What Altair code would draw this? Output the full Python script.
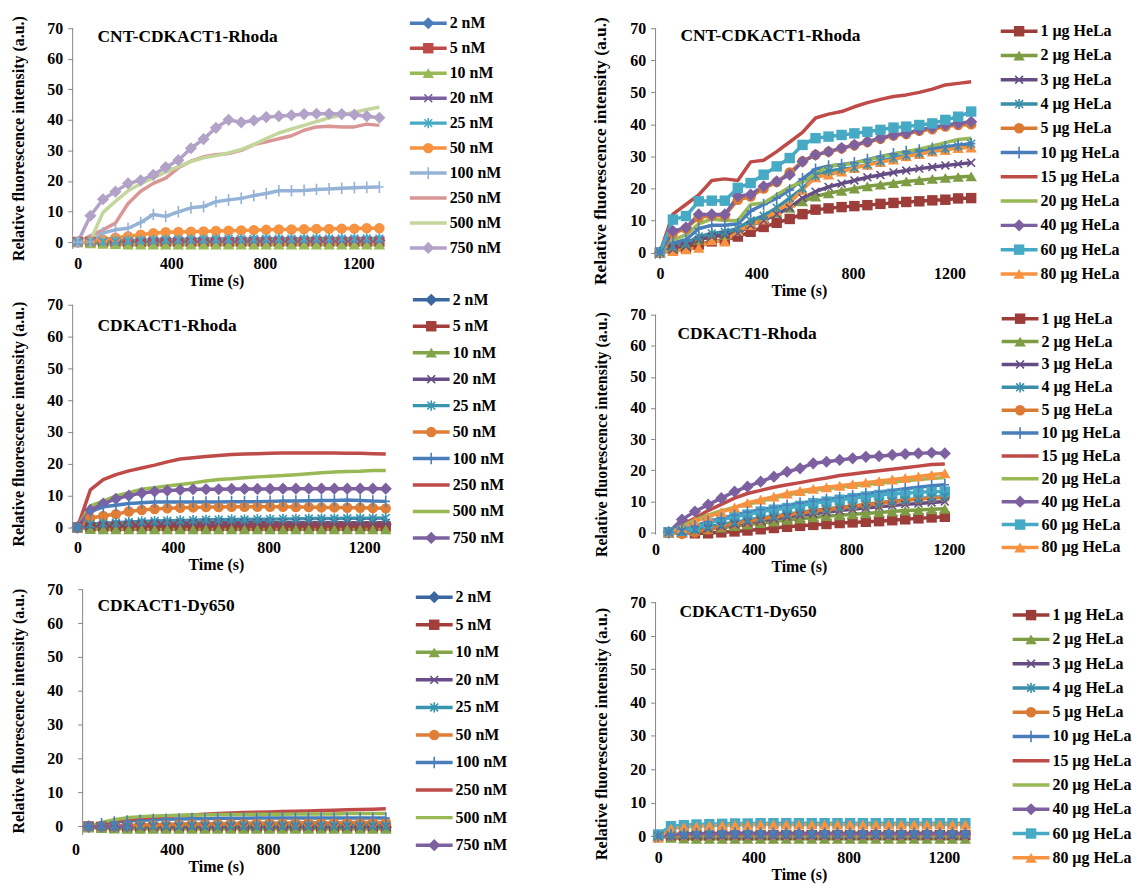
import altair as alt
import pandas as pd

FONT = "Liberation Serif"
GREY = "#868686"

# sampling times (s)
T = [0, 54, 108, 161, 215, 269, 323, 376, 430, 484, 538, 591, 645, 699, 753,
     806, 860, 914, 968, 1021, 1075, 1129, 1183, 1236, 1290]
X_TICKS = [0, 400, 800, 1200]
Y_TICKS = [0, 10, 20, 30, 40, 50, 60, 70]

NM = ["2 nM", "5 nM", "10 nM", "20 nM", "25 nM", "50 nM", "100 nM", "250 nM", "500 nM", "750 nM"]
HELA = ["1 µg HeLa", "2 µg HeLa", "3 µg HeLa", "4 µg HeLa", "5 µg HeLa", "10 µg HeLa",
        "15 µg HeLa", "20 µg HeLa", "40 µg HeLa", "60 µg HeLa", "80 µg HeLa"]
NM_MARKERS = ["diamond", "square", "triangle", "x", "star", "circle", "plus", None, None, "diamond"]
HELA_MARKERS = ["square", "triangle", "x", "star", "circle", "plus", None, None, "diamond", "square", "triangle"]
NM_COLORS_TOP = ["#4A7EBB", "#BE4B48", "#98B954", "#7D60A0", "#46AAC5", "#F69240",
                 "#95B3D7", "#D99694", "#C3D69B", "#B3A2C7"]
NM_COLORS = ["#3A679F", "#A33E3B", "#83A549", "#684D8A", "#3795AF", "#E07E36",
             "#4A7EBB", "#BE4B48", "#98B954", "#7D60A0"]
HELA_COLORS = ["#9D3D3A", "#7E9C44", "#644C84", "#3A8EA7", "#DB7A33", "#4A7EBB",
               "#BE4B48", "#98B954", "#7D60A0", "#46AAC5", "#F69240"]

# ---- CNT-CDKACT1-Rhoda, nM series
TL = {
    "2 nM": [0, 0.1, 0.2, 0.2, 0.3, 0.3, 0.3, 0.4, 0.4, 0.4, 0.4, 0.4, 0.5, 0.5, 0.5, 0.5, 0.5, 0.5, 0.5, 0.5, 0.5, 0.5, 0.5, 0.5, 0.5],
    "5 nM": [0, 0, -0.1, -0.1, -0.1, 0, 0, 0, 0, 0, 0, 0, 0, 0.1, 0.1, 0.1, 0.1, 0.1, 0.1, 0.1, 0.1, 0.1, 0.1, 0.1, 0.1],
    "10 nM": [0, -0.4, -0.6, -0.7, -0.8, -0.8, -0.8, -0.8, -0.8, -0.8, -0.8, -0.8, -0.8, -0.8, -0.8, -0.8, -0.8, -0.8, -0.8, -0.8, -0.8, -0.8, -0.8, -0.8, -0.8],
    "20 nM": [0, 0, 0.1, 0.2, 0.2, 0.3, 0.3, 0.4, 0.4, 0.4, 0.5, 0.5, 0.5, 0.5, 0.5, 0.6, 0.6, 0.6, 0.6, 0.6, 0.6, 0.6, 0.6, 0.6, 0.6],
    "25 nM": [0, 0.1, 0.2, 0.4, 0.5, 0.6, 0.7, 0.8, 0.8, 0.9, 0.9, 1, 1, 1, 1, 1.1, 1.1, 1.1, 1.1, 1.2, 1.2, 1.2, 1.2, 1.2, 1.2],
    "50 nM": [0, 0.2, 0.8, 1.4, 1.9, 2.4, 2.9, 3.2, 3.3, 3.4, 3.5, 3.6, 3.7, 3.8, 3.9, 4, 4.1, 4.1, 4.2, 4.3, 4.3, 4.4, 4.4, 4.5, 4.5],
    "100 nM": [0, 0.2, 3, 4, 4.5, 6.4, 9, 8.4, 9.9, 11.2, 11.6, 13.2, 13.8, 14.3, 15.2, 15.9, 16.8, 16.8, 16.9, 17.2, 17.4, 17.6, 17.8, 17.9, 18],
    "250 nM": [0, 2, 4, 6.2, 12.6, 16.6, 19.2, 20.9, 24.3, 26.5, 27.9, 28.6, 29, 30, 31.9, 32.8, 33.8, 34.8, 36.6, 37.7, 37.9, 37.7, 37.7, 38.6, 38.2],
    "500 nM": [0, 0.5, 9.7, 13.3, 16.8, 19.1, 21, 22.9, 24.7, 26.3, 27.6, 28.3, 29.2, 30.3, 31.9, 33.9, 35.7, 37, 38.2, 39.4, 40.7, 41.6, 42.5, 43.4, 44.1],
    "750 nM": [0, 8.6, 14, 16.5, 19.2, 20.2, 22, 24.5, 26.8, 30.7, 33.7, 37.4, 40, 39.2, 39.8, 40.9, 41.2, 41.5, 41.9, 42, 42, 41.9, 41.7, 41.2, 40.7],
}

# ---- CNT-CDKACT1-Rhoda, HeLa series
TR = {
    "1 µg HeLa": [0, 1, 1.5, 2.5, 3.5, 4, 5, 6.5, 8, 9.3, 10.5, 12, 13.4, 13.8, 14.2, 14.5, 14.8, 15.2, 15.5, 15.8, 16, 16.3, 16.5, 16.9, 17],
    "2 µg HeLa": [0, 1.5, 2.5, 4, 5, 5.5, 7, 9, 11, 12.5, 14, 16, 17.5, 18.5, 19.3, 20, 20.7, 21.2, 21.7, 22.2, 22.6, 23, 23.3, 23.6, 23.8],
    "3 µg HeLa": [0, 1, 2, 4, 5, 5.5, 6, 8.5, 10, 12, 14, 17, 19, 20.5, 21.5, 22.5, 23.5, 24.2, 25, 25.6, 26.2, 26.7, 27.2, 27.6, 28],
    "4 µg HeLa": [0, 2, 3, 5, 6, 6.5, 7.5, 10, 11.5, 14, 17, 20, 24, 25.5, 26, 26.5, 27.5, 28.5, 29.5, 30.3, 31, 31.8, 32.5, 33.2, 34],
    "5 µg HeLa": [0, 6, 7.5, 11, 11.5, 11.5, 16.5, 17.5, 20, 22, 25, 28.5, 30.5, 31.5, 32.5, 33.5, 34.5, 35.5, 36.5, 37, 38, 38.5, 39.3, 39.8, 40],
    "10 µg HeLa": [0, 3, 4, 7.5, 8.5, 8.5, 9, 13, 15, 17, 19.5, 23, 26, 27, 27.5, 28, 29, 30, 30.8, 31.5, 32, 32.5, 33, 33.5, 34],
    "15 µg HeLa": [0, 12, 15, 18, 22.5, 23, 22.5, 28.3, 28.8, 31.5, 34.5, 37.5, 42, 43.2, 44, 45.5, 46.8, 47.8, 48.7, 49.2, 50, 51, 52.3, 52.8, 53.3],
    "20 µg HeLa": [0, 4, 5.5, 9, 10.5, 10, 10, 15, 15.5, 18, 20.5, 22, 24.5, 27, 27.3, 28, 28.8, 29.8, 30.8, 31.5, 32.3, 33.3, 34.3, 35.3, 35.7],
    "40 µg HeLa": [0, 6.7, 7.8, 11.9, 11.9, 11.9, 17.6, 18.1, 20.7, 22.2, 24.3, 28.4, 30.5, 31.5, 32.6, 33.6, 34.6, 35.7, 36.7, 37.2, 38.3, 39, 39.8, 40.3, 40.8],
    "60 µg HeLa": [0, 10.3, 11.4, 16, 16.2, 16.2, 20.2, 21.7, 24.3, 26.9, 29.5, 33.6, 35.7, 36.2, 36.7, 37.2, 37.7, 38.3, 39, 39.3, 39.8, 40.3, 41.4, 42.4, 44],
    "80 µg HeLa": [0, 0.5, 1, 1.5, 3.8, 3.4, 6.7, 8.6, 10.3, 13, 15.5, 19.6, 23.5, 24.3, 25.3, 26.4, 27.4, 28.2, 29, 30, 30.7, 31.5, 32, 32.6, 32.8],
}

# ---- CDKACT1-Rhoda, nM series
ML = {
    "2 nM": [0, 0.4, 0.6, 0.7, 0.8, 0.8, 0.9, 0.9, 0.9, 0.9, 1, 1, 1, 1, 1, 1, 1, 1, 1, 1, 1, 1, 1, 1, 1],
    "5 nM": [0, 0.1, 0.2, 0.2, 0.3, 0.3, 0.3, 0.3, 0.3, 0.3, 0.3, 0.3, 0.3, 0.3, 0.3, 0.3, 0.3, 0.3, 0.3, 0.3, 0.3, 0.3, 0.3, 0.3, 0.3],
    "10 nM": [0, -0.5, -0.6, -0.6, -0.6, -0.6, -0.6, -0.6, -0.6, -0.6, -0.6, -0.6, -0.6, -0.6, -0.6, -0.6, -0.6, -0.6, -0.6, -0.6, -0.6, -0.6, -0.6, -0.6, -0.6],
    "20 nM": [0, 0.6, 0.9, 1.1, 1.2, 1.3, 1.3, 1.4, 1.4, 1.4, 1.5, 1.5, 1.5, 1.5, 1.5, 1.5, 1.5, 1.5, 1.5, 1.5, 1.5, 1.5, 1.5, 1.5, 1.5],
    "25 nM": [0, 1, 1.3, 1.5, 1.7, 1.9, 2, 2.1, 2.2, 2.3, 2.4, 2.4, 2.5, 2.5, 2.6, 2.6, 2.7, 2.7, 2.8, 2.8, 2.8, 2.9, 2.9, 2.9, 3],
    "50 nM": [0, 3, 3.6, 4.2, 5, 5.5, 5.8, 6, 6.2, 6.3, 6.4, 6.4, 6.5, 6.5, 6.5, 6.5, 6.5, 6.4, 6.4, 6.3, 6.3, 6.2, 6.2, 6.1, 6],
    "100 nM": [0, 5, 6.5, 7, 7.5, 7.8, 8, 8, 8, 8, 8, 8, 8.1, 8.1, 8.1, 8.2, 8.3, 8.3, 8.4, 8.5, 8.5, 8.6, 8.5, 8.3, 8.2],
    "250 nM": [0, 11.8, 15, 16.6, 17.8, 18.7, 19.6, 20.6, 21.5, 21.9, 22.3, 22.6, 22.9, 23.1, 23.2, 23.3, 23.4, 23.4, 23.4, 23.4, 23.4, 23.3, 23.3, 23.2, 23.1],
    "500 nM": [0, 6.8, 8.3, 9.9, 10.9, 12, 12.5, 13, 13.5, 14, 14.6, 15.1, 15.3, 15.6, 15.9, 16.1, 16.3, 16.6, 16.9, 17.2, 17.4, 17.6, 17.7, 17.9, 17.9],
    "750 nM": [0, 5.5, 7.5, 9, 10, 10.8, 11.3, 11.6, 11.8, 12, 12, 12, 12.1, 12.1, 12.1, 12.1, 12.2, 12.2, 12.2, 12.2, 12.2, 12.2, 12.2, 12.2, 12.2],
}

# ---- CDKACT1-Rhoda, HeLa series
MR = {
    "1 µg HeLa": [None, 0, 0, -0.3, -0.3, 0, 0.3, 0.6, 1, 1.4, 1.8, 2.1, 2.4, 2.7, 3, 3.2, 3.4, 3.6, 3.9, 4.2, 4.5, 4.8, 5, None, None],
    "2 µg HeLa": [None, 0, 0.2, 0.5, 1, 1.5, 2, 2.5, 3, 3.5, 4, 4.4, 4.8, 5.2, 5.5, 5.8, 6.1, 6.4, 6.7, 7, 7.2, 7.4, 7.6, None, None],
    "3 µg HeLa": [None, 0, 0.3, 0.8, 1.3, 2, 2.6, 3.2, 3.8, 4.4, 5, 5.5, 6, 6.5, 7, 7.4, 7.8, 8.2, 8.6, 9, 9.3, 9.6, 9.9, None, None],
    "4 µg HeLa": [None, 0, 0.5, 1, 1.8, 2.5, 3.2, 4, 4.6, 5.2, 5.8, 6.4, 7, 7.5, 8, 8.5, 9, 9.5, 10, 10.4, 10.8, 11.2, 11.5, None, None],
    "5 µg HeLa": [None, 0, -0.5, 0, 1, 2, 2.8, 3.5, 4.2, 5, 5.6, 6.2, 6.8, 7.3, 7.8, 8.3, 8.8, 9.3, 9.8, 10.3, 10.7, 11, 11.3, None, None],
    "10 µg HeLa": [None, 0, 1, 2, 3.5, 4.5, 5.5, 6.5, 7.3, 8, 8.7, 9.4, 10, 10.6, 11.2, 11.8, 12.4, 13, 13.5, 14, 14.5, 15, 15.3, None, None],
    "15 µg HeLa": [None, 0, 2.5, 4.5, 7, 9, 11, 12.5, 13.5, 14.5, 15.3, 16, 16.8, 17.5, 18.3, 18.8, 19.3, 19.8, 20.3, 20.8, 21.3, 21.8, 22, None, None],
    "20 µg HeLa": [None, 0, 2, 4, 5.5, 7, 8, 9, 10, 11, 12, 12.8, 13.5, 14, 14.5, 15, 15.4, 15.8, 16.2, 16.6, 17, 17.3, 17.6, None, None],
    "40 µg HeLa": [None, 0, 4.1, 6.7, 8.9, 11, 13.1, 14.7, 16.3, 17.9, 19.5, 20.6, 22.2, 22.7, 23.3, 23.8, 24.3, 24.5, 24.9, 25.2, 25.4, 25.6, 25.4, None, None],
    "60 µg HeLa": [None, 0, 0.5, 1.4, 3, 4, 5, 5.7, 6.7, 7.3, 7.8, 8.5, 9.4, 9.9, 10.5, 11, 11.5, 12, 12.4, 12.6, 12.9, 13.1, 13.1, None, None],
    "80 µg HeLa": [None, 0, 1.4, 3.5, 5, 6.5, 8, 9.5, 10.5, 11.5, 12.5, 13.3, 14, 14.5, 15, 15.5, 16, 16.5, 17, 17.5, 18, 18.5, 19, None, None],
}

# ---- CDKACT1-Dy650, nM series
BL = {
    "2 nM": [None, -0.1, -0.2, -0.2, -0.2, -0.2, -0.2, -0.2, -0.2, -0.2, -0.2, -0.2, -0.2, -0.2, -0.2, -0.2, -0.2, -0.2, -0.2, -0.2, -0.2, -0.2, -0.2, -0.2, -0.2],
    "5 nM": [None, 0, -0.1, -0.2, -0.3, -0.3, -0.3, -0.3, -0.3, -0.3, -0.3, -0.3, -0.3, -0.3, -0.3, -0.3, -0.3, -0.3, -0.3, -0.3, -0.3, -0.3, -0.3, -0.3, -0.3],
    "10 nM": [None, -0.3, -0.5, -0.6, -0.7, -0.7, -0.7, -0.7, -0.7, -0.7, -0.7, -0.7, -0.7, -0.7, -0.7, -0.7, -0.7, -0.7, -0.7, -0.7, -0.7, -0.7, -0.7, -0.7, -0.7],
    "20 nM": [None, 0, 0, 0, 0, 0, 0, 0, 0, 0, 0, 0, 0, 0, 0, 0, 0, 0, 0, 0, 0, 0, 0, 0, 0],
    "25 nM": [None, 0, 0.1, 0.2, 0.2, 0.3, 0.3, 0.3, 0.3, 0.3, 0.3, 0.3, 0.3, 0.3, 0.3, 0.3, 0.3, 0.3, 0.3, 0.3, 0.3, 0.3, 0.3, 0.3, 0.3],
    "50 nM": [None, 0, 0.1, 0.2, 0.3, 0.4, 0.5, 0.6, 0.7, 0.8, 0.8, 0.9, 0.9, 1, 1, 1, 1, 1.1, 1.1, 1.1, 1.1, 1.2, 1.2, 1.2, 1.2],
    "100 nM": [None, 0, 0.8, 1.3, 1.6, 1.8, 2, 2.1, 2.2, 2.3, 2.3, 2.4, 2.4, 2.4, 2.5, 2.5, 2.5, 2.5, 2.5, 2.5, 2.5, 2.5, 2.5, 2.5, 2.5],
    "250 nM": [None, 0, 0.8, 1.5, 2, 2.4, 2.7, 3, 3.2, 3.4, 3.6, 3.8, 4, 4.1, 4.2, 4.3, 4.4, 4.5, 4.6, 4.7, 4.8, 4.9, 5, 5.1, 5.2],
    "500 nM": [None, 0, 1.2, 2, 2.6, 2.9, 3.1, 3.2, 3.3, 3.4, 3.4, 3.5, 3.5, 3.5, 3.6, 3.6, 3.6, 3.7, 3.7, 3.7, 3.7, 3.8, 3.8, 3.8, 3.8],
    "750 nM": [None, 0, 0, 0, 0, None, None, None, None, None, None, None, None, None, None, None, None, None, None, None, None, None, None, None, None],
}

# ---- CDKACT1-Dy650, HeLa series
BR = {
    "1 µg HeLa": [0, 0, 0.1, 0.1, 0.2, 0.2, 0.2, 0.2, 0.3, 0.3, 0.3, 0.3, 0.3, 0.3, 0.3, 0.3, 0.3, 0.3, 0.3, 0.3, 0.3, 0.3, 0.3, 0.3, 0.3],
    "2 µg HeLa": [0, -0.5, -0.7, -0.8, -0.8, -0.8, -0.8, -0.8, -0.8, -0.8, -0.8, -0.8, -0.8, -0.8, -0.8, -0.8, -0.8, -0.8, -0.8, -0.8, -0.8, -0.8, -0.8, -0.8, -0.8],
    "3 µg HeLa": [0, 0.1, 0.2, 0.2, 0.2, 0.2, 0.2, 0.2, 0.2, 0.2, 0.2, 0.2, 0.2, 0.2, 0.2, 0.2, 0.2, 0.2, 0.2, 0.2, 0.2, 0.2, 0.2, 0.2, 0.2],
    "4 µg HeLa": [0, 0.3, 0.5, 0.6, 0.6, 0.6, 0.6, 0.6, 0.6, 0.6, 0.6, 0.6, 0.6, 0.6, 0.6, 0.6, 0.6, 0.6, 0.6, 0.6, 0.6, 0.6, 0.6, 0.6, 0.6],
    "5 µg HeLa": [0, 0.2, 0.3, 0.4, 0.4, 0.4, 0.4, 0.4, 0.4, 0.4, 0.4, 0.4, 0.4, 0.4, 0.4, 0.4, 0.4, 0.4, 0.4, 0.4, 0.4, 0.4, 0.4, 0.4, 0.4],
    "10 µg HeLa": [0, 0.5, 0.7, 0.8, 0.8, 0.9, 0.9, 0.9, 0.9, 0.9, 0.9, 0.9, 0.9, 0.9, 0.9, 0.9, 0.9, 0.9, 0.9, 0.9, 0.9, 0.9, 0.9, 0.9, 0.9],
    "15 µg HeLa": [0, 0.3, 0.4, 0.5, 0.5, 0.5, 0.5, 0.5, 0.5, 0.5, 0.5, 0.5, 0.5, 0.5, 0.5, 0.5, 0.5, 0.5, 0.5, 0.5, 0.5, 0.5, 0.5, 0.5, 0.5],
    "20 µg HeLa": [0, 0.1, 0.2, 0.3, 0.3, 0.3, 0.3, 0.3, 0.3, 0.3, 0.3, 0.3, 0.3, 0.3, 0.3, 0.3, 0.3, 0.3, 0.3, 0.3, 0.3, 0.3, 0.3, 0.3, 0.3],
    "40 µg HeLa": [0, 0.4, 0.6, 0.7, 0.7, 0.7, 0.7, 0.7, 0.7, 0.7, 0.7, 0.7, 0.7, 0.7, 0.7, 0.7, 0.7, 0.7, 0.7, 0.7, 0.7, 0.7, 0.7, 0.7, 0.7],
    "60 µg HeLa": [0.5, 3, 3.3, 3.5, 3.6, 3.7, 3.8, 3.8, 3.9, 3.9, 3.9, 3.9, 3.9, 3.9, 3.9, 3.9, 3.9, 3.9, 3.9, 3.9, 3.9, 3.9, 3.9, 3.9, 3.9],
    "80 µg HeLa": [-0.5, 2.3, 2.8, 3, 3.2, 3.3, 3.4, 3.4, 3.5, 3.5, 3.5, 3.5, 3.5, 3.5, 3.5, 3.5, 3.5, 3.5, 3.5, 3.5, 3.5, 3.5, 3.5, 3.5, 3.5],
}

# marker name -> (vega symbol, filled, size)
SHAPES = {
    "diamond": ("diamond", True, 150),
    "square": ("square", True, 110),
    "triangle": ("triangle-up", True, 130),
    "circle": ("circle", True, 110),
    "x": ("M-1,-1L1,1M-1,1L1,-1", False, 62),
    "star": ("M-1,-1L1,1M-1,1L1,-1M0,-1.3L0,1.3", False, 62),
    "plus": ("M0,-1.4L0,1.4M-1,0L1,0", False, 70),
}
LINE_W = 3.5


def split_rows(rows, markers_of):
    fills, strokes = [], []
    for r in rows:
        mk = markers_of[r["s"]]
        if mk is None:
            continue
        shp, filled, sz = SHAPES[mk]
        r2 = dict(r, shp=shp, sz=sz)
        (fills if filled else strokes).append(r2)
    return fills, strokes


def point_layers(fills, strokes, x, y):
    layers = []
    if fills:
        layers.append(alt.Chart(pd.DataFrame(fills)).mark_point(filled=True, opacity=1).encode(
            x=x, y=y, color=alt.Color("col:N", scale=None),
            shape=alt.Shape("shp:N", scale=None), size=alt.Size("sz:Q", scale=None)))
    if strokes:
        layers.append(alt.Chart(pd.DataFrame(strokes)).mark_point(filled=False, opacity=1, strokeWidth=1.6).encode(
            x=x, y=y, color=alt.Color("col:N", scale=None),
            shape=alt.Shape("shp:N", scale=None), size=alt.Size("sz:Q", scale=None)))
    return layers


def panel(names, values, colors, markers, title, xdom, ymin, w, h, tpos,
          pad=0, yoff=0, title_y=None, ytitle_size=16):
    """h is the height from 70 down to ymin; pad adds empty room above 70."""
    ppu = h / (70 - ymin)
    ymax = 70 + pad / ppu
    rows = []
    for k, name in enumerate(names):
        vals = values[name]
        assert len(vals) == len(T), (title, name, len(vals))
        for i, v in enumerate(vals):
            if v is None:
                continue
            rows.append({"s": name, "k": k, "i": i, "t": T[i], "v": v, "col": colors[k]})
    fills, strokes = split_rows(rows, dict(zip(names, markers)))

    x = alt.X("t:Q", scale=alt.Scale(domain=xdom, nice=False, zero=False),
              axis=alt.Axis(values=X_TICKS, title="Time (s)", titleX=144, grid=False,
                            domain=False, ticks=False, tickSize=0, labelPadding=7,
                            titlePadding=1, labelFlush=False, labelOverlap=False, format="d"))
    yaxis = dict(values=Y_TICKS, title="Relative fluorescence intensity (a.u.)",
                 grid=False, domain=False, tickColor=GREY, tickSize=5,
                 labelPadding=5 - yoff, titlePadding=20, offset=yoff,
                 titleFontSize=ytitle_size,
                 labelFlush=False, labelOverlap=False, format="d")
    if title_y is not None:
        yaxis["titleY"] = title_y
    yscale = alt.Scale(domain=[ymin, ymax], nice=False, zero=False)
    y = alt.Y("v:Q", scale=yscale, axis=alt.Axis(**yaxis))
    # vertical axis line from the bottom of the scale up to 70
    axis_df = pd.DataFrame({"v": [70], "v2": [ymin]})
    axis_line = alt.Chart(axis_df).mark_rule(color=GREY, strokeWidth=1).encode(
        x=alt.value(-yoff), y=y, y2="v2:Q")
    lines = alt.Chart(pd.DataFrame(rows)).mark_line(strokeWidth=LINE_W, strokeJoin="round").encode(
        x=x, y=y, color=alt.Color("col:N", scale=None), detail="k:N", order="i:Q")
    ttl = alt.Chart(pd.DataFrame({"lab": [title]})).mark_text(
        align="left", baseline="alphabetic", font=FONT, fontSize=17.5, fontWeight="bold",
        color="black").encode(text="lab:N", x=alt.value(tpos[0]), y=alt.value(tpos[1]))
    return alt.layer(lines, *point_layers(fills, strokes, x, y), axis_line, ttl).properties(
        width=w, height=h + pad)


def legend(names, colors, markers, h, p0, step, x0, w):
    rows = [{"i": k, "s": n, "col": colors[k]} for k, n in enumerate(names)]
    fills, strokes = split_rows(rows, dict(zip(names, markers)))
    dmin = -p0 / step
    dmax = dmin + h / step
    y = alt.Y("i:Q", scale=alt.Scale(domain=[dmin, dmax], reverse=True, nice=False, zero=False), axis=None)
    df = pd.DataFrame(rows)
    rule = alt.Chart(df).mark_rule(strokeWidth=LINE_W).encode(
        x=alt.value(x0), x2=alt.value(x0 + 37), y=y, color=alt.Color("col:N", scale=None))
    pts = point_layers(fills, strokes, alt.value(x0 + 18.5), y)
    txt = alt.Chart(df).mark_text(align="left", baseline="middle", font=FONT, fontSize=16,
                                  fontWeight="bold", color="black").encode(
        x=alt.value(x0 + 40), y=y, text="s:N")
    return alt.layer(rule, *pts, txt).properties(width=w, height=h)


# row 1 (top of row at page y=26)
p_tl = panel(NM, TL, NM_COLORS_TOP, NM_MARKERS, "CNT-CDKACT1-Rhoda",
             [-22, 1297], -2.3, 310, 222, (25, 14), title_y=110.5)
g_tl = legend(NM, NM_COLORS_TOP, NM_MARKERS, 222, -5, 25.1, 11, 248)
p_tr = panel(HELA, TR, HELA_COLORS, HELA_MARKERS, "CNT-CDKACT1-Rhoda",
             [-18, 1297], -2, 319, 232, (25, 13), title_y=123, ytitle_size=17.5)
g_tr = legend(HELA, HELA_COLORS, HELA_MARKERS, 232, 3, 24.4, 18, 140)

# row 2 (top of row at page y=304)
p_ml = panel(NM, ML, NM_COLORS, NM_MARKERS, "CDKACT1-Rhoda",
             [-20, 1291], -1.6, 315, 229, (25, 26), title_y=119.5)
g_ml = legend(NM, NM_COLORS, NM_MARKERS, 229, -5, 26.6, 14, 248)
p_mr = panel(HELA, MR, HELA_COLORS, HELA_MARKERS, "CDKACT1-Rhoda",
             [0, 1200], -0.7, 295, 221, (22, 34), pad=10, title_y=130)
g_mr = legend(HELA, HELA_COLORS, HELA_MARKERS, 231, 14, 23, 19, 140)

# row 3 (top of row at page y=581)
p_bl = panel(NM, BL, NM_COLORS, NM_MARKERS, "CDKACT1-Dy650",
             [-12, 1303], -2.5, 318, 247, (25, 31), pad=9, yoff=-10, title_y=131)
g_bl = legend(NM, NM_COLORS, NM_MARKERS, 256, 17, 27.7, 17, 248)
p_br = panel(HELA, BR, HELA_COLORS, HELA_MARKERS, "CDKACT1-Dy650",
             [-11, 1305], -2, 315, 242, (24, 37), pad=22, title_y=154, ytitle_size=16.5)
g_br = legend(HELA, HELA_COLORS, HELA_MARKERS, 264, 35, 24.4, 30, 140)

chart = alt.concat(
    p_tl, g_tl, p_tr, g_tr,
    p_ml, g_ml, p_mr, g_mr,
    p_bl, g_bl, p_br, g_br,
    columns=4, spacing={"row": 46, "column": 10}, bounds="flush",
).properties(
    padding={"left": 2, "top": 5, "right": 2, "bottom": 2}
).configure(font=FONT).configure_view(stroke=None).configure_axis(
    labelFont=FONT, titleFont=FONT, labelFontWeight="bold", titleFontWeight="bold",
    labelFontSize=16, titleFontSize=16, labelColor="black", titleColor="black"
)

chart.save("out.html", embed_options={"renderer": "svg", "actions": False})
